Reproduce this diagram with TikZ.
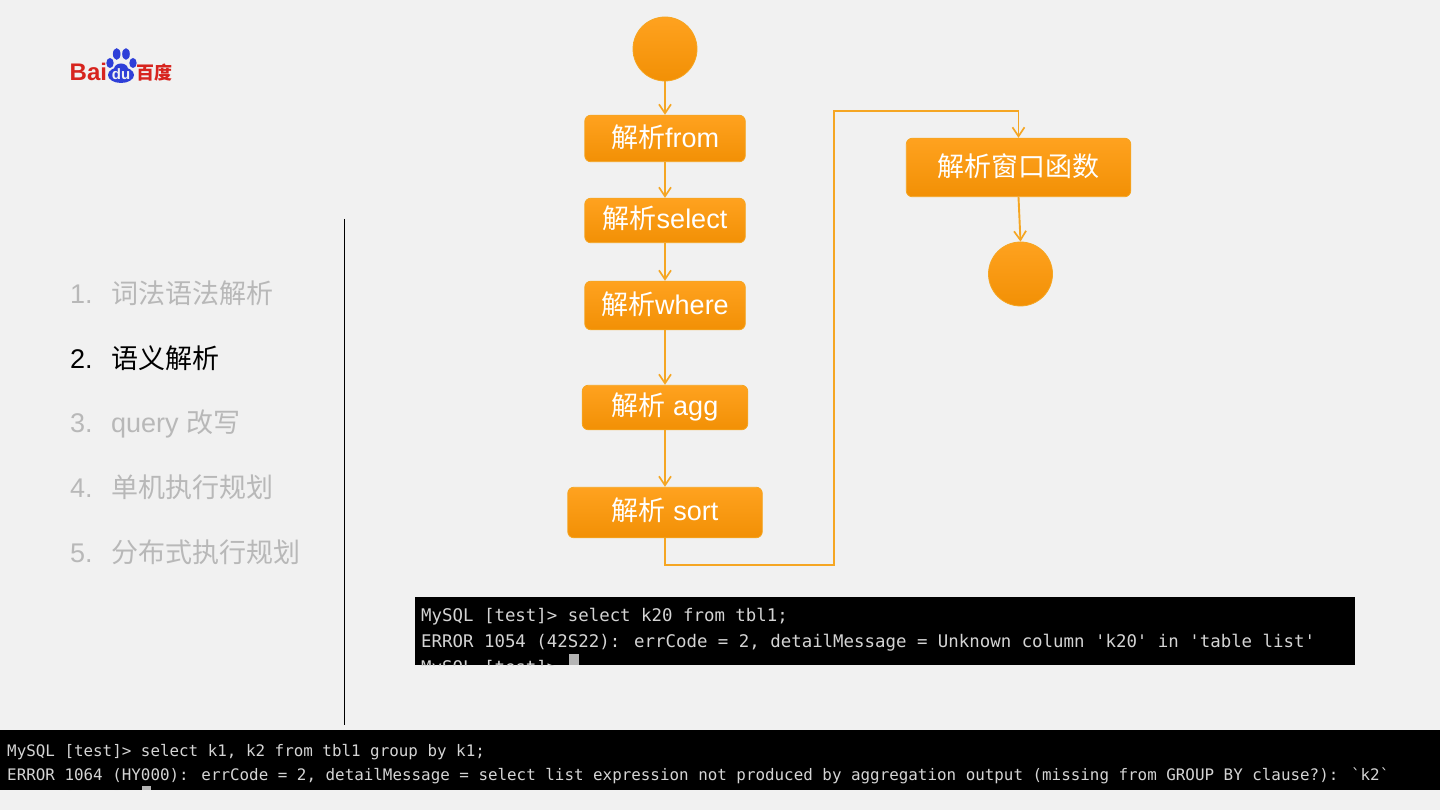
\documentclass[tikz,border=0pt]{standalone}
\usepackage{fontspec}
\setmainfont{Liberation Sans}
\newfontfamily\cjk{Noto Sans CJK SC}
\newfontfamily\termfont{DejaVu Sans Mono}
\usetikzlibrary{arrows.meta}
\definecolor{bgc}{HTML}{F1F1F1}
\definecolor{edgec}{HTML}{F5A623}
\definecolor{topc}{HTML}{FFA21F}
\definecolor{botc}{HTML}{F29005}
\definecolor{baired}{HTML}{D7241E}
\definecolor{baiblue}{HTML}{2E3FD8}
\definecolor{dimc}{HTML}{B8B8B8}
\definecolor{termc}{HTML}{D4D4D4}
\tikzset{
  flowbox/.style={draw=edgec,line width=.8pt,rounded corners=6pt,top color=topc,bottom color=botc,text=white,inner sep=0pt,font=\fontsize{27}{32}\selectfont},
  flowdot/.style={circle,draw=edgec,line width=.8pt,top color=topc,bottom color=botc,inner sep=0pt,minimum size=64pt},
  flowline/.style={draw=edgec,line width=1.9pt,-{Straight Barb[length=9pt,width=12pt,line width=1.7pt]}},
  listitem/.style={anchor=base west,inner sep=0pt,text=dimc,font=\fontsize{27}{32}\selectfont},
  termline/.style={anchor=base west,inner sep=0pt,text=termc},
}
\newcommand{\liftlabel}[2]{\raisebox{#1}{#2}}
\begin{document}
\begin{tikzpicture}[x=1pt,y=-1pt]
\useasboundingbox (0,0) rectangle (1440,810);
\fill[bgc] (0,0) rectangle (1440,810);
% logo
\node[anchor=base west,inner sep=0pt,text=baired,font=\fontsize{24}{28}\bfseries\selectfont] (lbai) at (69.5,80.5) {Bai};
\fill[baiblue] (110,63) ellipse (3.7pt and 5pt);
\fill[baiblue] (116.7,54) ellipse (3.8pt and 5.8pt);
\fill[baiblue] (126,54) ellipse (3.8pt and 5.8pt);
\fill[baiblue] (133,63) ellipse (3.7pt and 5pt);
\fill[baiblue] (121,75) ellipse (13pt and 8pt);
\fill[baiblue] (121,69) ellipse (7pt and 5.5pt);
\node[anchor=base,inner sep=0pt,text=bgc,font=\fontsize{15}{16}\bfseries\selectfont] (ldu) at (121,80) {du};
\node[anchor=base west,inner sep=0pt,text=baired,font=\cjk\fontsize{18}{20}\bfseries\selectfont] (lbd) at (136.5,79.5) {百度};
% divider
\coordinate (divt) at (344.5,219);
\coordinate (divb) at (344.5,725);
\draw[black,line width=1pt] (divt) -- (divb);
% list
\node[listitem] (l1n) at (70,303) {1.};
\node[listitem,font=\cjk\fontsize{27}{32}\selectfont] (l1) at (111,303) {词法语法解析};
\node[listitem,text=black] (l2n) at (70,368) {2.};
\node[listitem,text=black,font=\cjk\fontsize{27}{32}\selectfont] (l2) at (111,368) {语义解析};
\node[listitem] (l3n) at (70,432.5) {3.};
\node[listitem] (l3) at (111,432.5) {query {\cjk 改写}};
\node[listitem] (l4n) at (70,497) {4.};
\node[listitem,font=\cjk\fontsize{27}{32}\selectfont] (l4) at (111,497) {单机执行规划};
\node[listitem] (l5n) at (70,562) {5.};
\node[listitem,font=\cjk\fontsize{27}{32}\selectfont] (l5) at (111,562) {分布式执行规划};
% flow
\node[flowdot] (start) at (665,49) {};
\node[flowbox,minimum width=160.5pt,minimum height=46.5pt] (from) at (665,138.5) {\liftlabel{5.4pt}{{\cjk 解析}from}};
\node[flowbox,minimum width=160.5pt,minimum height=44.5pt] (select) at (665,220.5) {\liftlabel{7.4pt}{{\cjk 解析}select}};
\node[flowbox,minimum width=160.5pt,minimum height=48.5pt] (where) at (665,305.5) {\liftlabel{5.4pt}{{\cjk 解析}where}};
\node[flowbox,minimum width=165.5pt,minimum height=44.5pt] (agg) at (665,407.5) {\liftlabel{7.4pt}{{\cjk 解析} agg}};
\node[flowbox,minimum width=194.5pt,minimum height=50.5pt] (sort) at (665,512.5) {\liftlabel{7.4pt}{{\cjk 解析} sort}};
\node[flowbox,minimum width=224.5pt,minimum height=58.5pt,font=\cjk\fontsize{27}{32}\selectfont] (win) at (1018.5,167.5) {\liftlabel{5.4pt}{解析窗口函数}};
\node[flowdot] (end) at (1020.5,274) {};
\draw[flowline] (start.south) -- (from.north);
\draw[flowline] (from.south) -- (select.north);
\draw[flowline] (select.south) -- (where.north);
\draw[flowline] (where.south) -- (agg.north);
\draw[flowline] (agg.south) -- (sort.north);
\coordinate (b1) at (665,565);
\coordinate (b2) at (834,565);
\coordinate (b3) at (834,111);
\coordinate (b4) at (1018.5,111);
\draw[flowline] (sort.south) -- (b1) -- (b2) -- (b3) -- (b4) -- (win.north);
\draw[flowline] (win.south) -- (end.north);
% terminal 1
\begin{scope}
\clip (415,597) rectangle (1355,665);
\fill[black] (415,597) rectangle (1355,665);
\node[termline,font=\termfont\fontsize{17.4}{20}\selectfont] (t11) at (421,621) {MySQL [test]> select k20 from tbl1;};
\node[termline,font=\termfont\fontsize{17.4}{20}\selectfont] (t12) at (421,647) {ERROR 1054 (42S22): errCode = 2, detailMessage = Unknown column 'k20' in 'table list'};
\node[termline,font=\termfont\fontsize{17.4}{20}\selectfont] (t13) at (421,673) {MySQL [test]>};
\fill[termc!85!black] (569,654) rectangle (579,665);
\end{scope}
% terminal 2
\begin{scope}
\clip (0,730) rectangle (1440,790);
\fill[black] (0,730) rectangle (1440,790);
\node[termline,font=\termfont\fontsize{15.87}{20}\selectfont] (t21) at (7,756.5) {MySQL [test]> select k1, k2 from tbl1 group by k1;};
\node[termline,font=\termfont\fontsize{15.87}{20}\selectfont] (t22) at (7,780) {ERROR 1064 (HY000): errCode = 2, detailMessage = select list expression not produced by aggregation output (missing from GROUP BY clause?): `k2`};
\node[termline,font=\termfont\fontsize{15.87}{20}\selectfont] (t23) at (7,803.5) {MySQL [test]>};
\fill[termc!85!black] (142,786) rectangle (151,790);
\end{scope}
\end{tikzpicture}
\end{document}
